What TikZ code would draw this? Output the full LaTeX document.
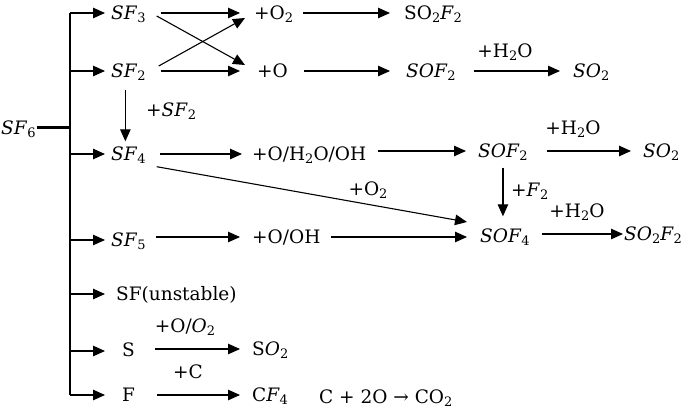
\documentclass[tikz,border=0pt]{standalone}
\usepackage{fontspec}
\setmainfont{DejaVu Serif}
\usetikzlibrary{arrows.meta,calc}
\newcommand\dn[1]{\raisebox{-0.32ex}{\fontsize{13}{13}\selectfont #1}}
\begin{document}
\begin{tikzpicture}[x=1pt,y=-1pt,
  chem/.style={inner sep=0pt, anchor=west, text height=18pt, text depth=5pt, font=\fontsize{18.5}{22}\selectfont},
  lbl/.style={inner sep=0pt, font=\fontsize{18.5}{22}\selectfont},
  arr/.style={-{Triangle[length=12pt,width=10.5pt]}, line width=1.1pt},
  gap/.style 2 args={shorten <=#1pt, shorten >=#2pt},
]
\useasboundingbox (0,0) rectangle (685,409);
% nodes
\node[chem] (SF6) at (1,128) {\textit{SF}\dn{6}};
\node[chem] (SF3) at (111,13) {\textit{SF}\dn{3}};
\node[chem] (SF2) at (111,71) {\textit{SF}\dn{2}};
\node[chem] (SF4) at (111,154) {\textit{SF}\dn{4}};
\node[chem] (SF5) at (111,240) {\textit{SF}\dn{5}};
\node[chem] (SFu) at (116,294) {SF(unstable)};
\node[chem] (S) at (122,350) {S};
\node[chem] (F) at (122,395) {F};
\node[chem] (O2) at (254,13) {+O\dn{2}};
\node[chem] (O) at (257,71) {+O};
\node[chem] (SO2F2a) at (404,13) {SO\dn{2}\textit{F}\dn{2}};
\node[chem] (SOF2a) at (406,71) {\textit{SOF}\dn{2}};
\node[chem] (SO2a) at (573,71) {\textit{SO}\dn{2}};
\node[lbl] (H2Oa) at (505,52) {+H\dn{2}O};
\node[chem] (SFlbl) at (146,110) {+\textit{SF}\dn{2}};
\node[chem] (OHO) at (252,154) {+O/H\dn{2}O/OH};
\node[chem] (SOF2b) at (478,151) {\textit{SOF}\dn{2}};
\node[chem] (SO2b) at (643,151) {\textit{SO}\dn{2}};
\node[lbl] (H2Ob) at (573,129) {+H\dn{2}O};
\node[chem] (F2lbl) at (511,190) {+\textit{F}\dn{2}};
\node[lbl] (O2lbl) at (368,190) {+O\dn{2}};
\node[chem] (OOH) at (252,237) {+O/OH};
\node[chem] (SOF4) at (480,236) {\textit{SOF}\dn{4}};
\node[chem] (SO2F2b) at (624,234) {\textit{SO}\dn{2}\textit{F}\dn{2}};
\node[lbl] (H2Oc) at (577,212) {+H\dn{2}O};
\node[chem] (SO2c) at (252,349) {S\textit{O}\dn{2}};
\node[chem] (CF4) at (252,395) {C\textit{F}\dn{4}};
\node[chem] (eq) at (319,397) {C + 2O → CO\dn{2}};
\node[lbl] (OO2lbl) at (185,327) {+O/\textit{O}\dn{2}};
\node[lbl] (Clbl) at (188,372) {+C};
% trunk
\coordinate (t6) at (70,128);
\coordinate (b1) at (70,13);
\coordinate (b2) at (70,71);
\coordinate (b3) at (70,154);
\coordinate (b4) at (70,240);
\coordinate (b5) at (70,294);
\coordinate (b6) at (70,351);
\coordinate (b7) at (70,395);
\draw[line width=1.4pt] (b1) -- (b7);
\draw[line width=3pt] ([xshift=1pt]SF6.east) -- (t6);
\draw[arr,shorten >=6pt] (b1) -- (b1 -| SF3.west);
\draw[arr,shorten >=6pt] (b2) -- (b2 -| SF2.west);
\draw[arr,shorten >=6pt] (b3) -- (b3 -| SF4.west);
\draw[arr,shorten >=6pt] (b4) -- (b4 -| SF5.west);
\draw[arr,shorten >=11pt] (b5) -- (b5 -| SFu.west);
\draw[arr,shorten >=17pt] (b6) -- (b6 -| S.west);
\draw[arr,shorten >=17pt] (b7) -- (b7 -| F.west);
% row 1
\draw[arr,gap={15}{14}] (SF3.east) -- (SF3.east -| O2.west);
\draw[arr,gap={10}{14}] (O2.east) -- (O2.east -| SO2F2a.west);
% cross
\draw[arr] ([xshift=11pt,yshift=-3pt]SF3.east) -- ([xshift=-12pt,yshift=6pt]O.west);
\draw[arr] ([xshift=13pt,yshift=5pt]SF2.east) -- ([xshift=-9pt,yshift=-5pt]O2.west);
% row 2
\draw[arr,gap={15}{17}] (SF2.east) -- (SF2.east -| O.west);
\draw[arr,gap={16}{16}] (O.east) -- (O.east -| SOF2a.west);
\draw[arr,gap={18}{13}] (SOF2a.east) -- (SOF2a.east -| SO2a.west);
% vertical SF2 -> SF4
\draw[arr,shorten <=7pt,shorten >=1pt] ([xshift=-3pt]SF2.south) -- ([xshift=-3pt]SF2.south |- SF4.north);
% row 3
\draw[arr,gap={14}{10}] (SF4.east) -- (SF4.east -| OHO.west);
\draw[arr,gap={12}{12}] (OHO.east |- SOF2b.west) -- (SOF2b.west);
\draw[arr,gap={19}{12}] (SOF2b.east) -- (SOF2b.east -| SO2b.west);
% vertical SOF2 -> SOF4
\draw[arr,shorten <=5pt,shorten >=8pt] (SOF2b.south) -- (SOF2b.south |- SOF4.north);
% diagonal
\draw[arr] ([xshift=11pt,yshift=-1pt]SF4.south east) -- ([xshift=-13pt,yshift=14pt]SOF4.west);
% row 4
\draw[arr,gap={10}{12}] (SF5.east |- OOH.west) -- (OOH.west);
\draw[arr,gap={10}{13}] (OOH.east) -- (OOH.east -| SOF4.west);
\draw[arr,gap={12}{1}] (SOF4.east |- SO2F2b.west) -- (SO2F2b.west);
% S and F rows
\draw[arr,gap={20}{12}] (S.east |- SO2c.west) -- (SO2c.west);
\draw[arr,gap={22}{12}] (F.east |- CF4.west) -- (CF4.west);
\end{tikzpicture}
\end{document}
